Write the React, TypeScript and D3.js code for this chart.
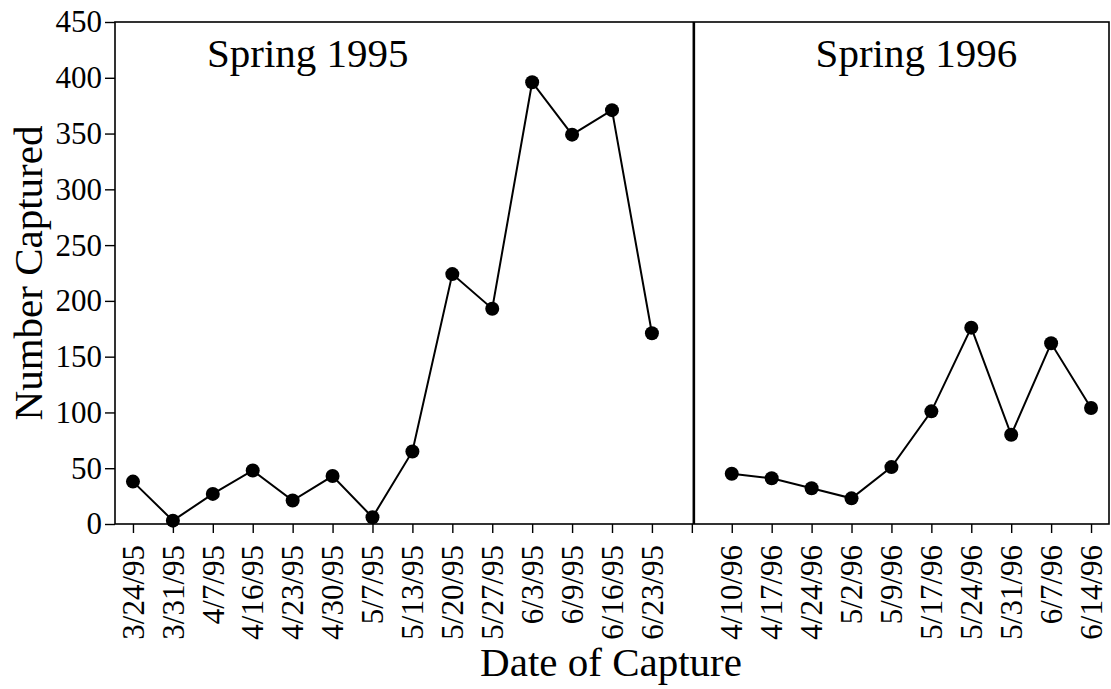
import React, { useEffect, useRef } from "react";
import * as d3 from "d3";

const dates1995 = [
  "3/24/95", "3/31/95", "4/7/95", "4/16/95", "4/23/95", "4/30/95", "5/7/95",
  "5/13/95", "5/20/95", "5/27/95", "6/3/95", "6/9/95", "6/16/95", "6/23/95",
];
const captured1995 = [38, 3, 27, 48, 21, 43, 6, 65, 224, 193, 396, 349, 371, 171];

const dates1996 = [
  "4/10/96", "4/17/96", "4/24/96", "5/2/96", "5/9/96", "5/17/96", "5/24/96",
  "5/31/96", "6/7/96", "6/14/96",
];
const captured1996 = [45, 41, 32, 23, 51, 101, 176, 80, 162, 104];

const yTicks = [0, 50, 100, 150, 200, 250, 300, 350, 400, 450];
const GAP = "gap";

function CaptureChart({
  width = 1111,
  height = 689,
  margin = { top: 22, right: 2, bottom: 165, left: 115 },
}) {
  const svgRef = useRef<SVGSVGElement>(null);

  useEffect(() => {
    const svg = d3.select(svgRef.current);
    svg.selectAll("*").remove();

    const font = "'Liberation Serif', 'Times New Roman', serif";
    const x0 = margin.left;
    const x1 = width - margin.right;
    const y0 = height - margin.bottom;
    const y1 = margin.top;

    const xScale = d3
      .scalePoint<string>()
      .domain([...dates1995, GAP, ...dates1996])
      .range([x0, x1])
      .padding(0.45);

    const yScale = d3.scaleLinear().domain([0, 450]).range([y0, y1]);

    // frame
    svg
      .append("rect")
      .attr("x", x0)
      .attr("y", y1)
      .attr("width", x1 - x0)
      .attr("height", y0 - y1)
      .attr("fill", "none")
      .attr("stroke", "#000")
      .attr("stroke-width", 1.6);

    // divider between the two seasons
    svg
      .append("line")
      .attr("x1", xScale(GAP)! + 2)
      .attr("x2", xScale(GAP)! + 2)
      .attr("y1", y1)
      .attr("y2", y0)
      .attr("stroke", "#000")
      .attr("stroke-width", 2.6);

    // y axis
    const yAxis = svg
      .append("g")
      .attr("transform", `translate(${x0},0)`)
      .call(d3.axisLeft(yScale).tickValues(yTicks).tickSize(10).tickPadding(3));
    yAxis.select(".domain").remove();
    yAxis.selectAll("line").attr("stroke-width", 1.4);
    yAxis
      .selectAll("text")
      .attr("font-family", font)
      .attr("font-size", 31)
      .attr("fill", "#000");

    // x axis
    const xAxis = svg
      .append("g")
      .attr("transform", `translate(0,${y0})`)
      .call(
        d3
          .axisBottom(xScale)
          .tickSize(9)
          .tickFormat((d) => (d === GAP ? "" : d))
      );
    xAxis.select(".domain").remove();
    xAxis.selectAll("line").attr("stroke-width", 1.4);
    xAxis
      .selectAll("text")
      .attr("font-family", font)
      .attr("font-size", 31)
      .attr("fill", "#000")
      .attr("text-anchor", "end")
      .attr("dy", "0.33em")
      .attr("transform", "translate(0,21) rotate(-90)")
      .attr("x", 0)
      .attr("y", 0);

    const line = d3
      .line<[string, number]>()
      .x((d) => xScale(d[0])!)
      .y((d) => yScale(d[1]));

    const seasons: [string, number][][] = [
      dates1995.map((d, i) => [d, captured1995[i]]),
      dates1996.map((d, i) => [d, captured1996[i]]),
    ];

    seasons.forEach((pts) => {
      svg
        .append("path")
        .datum(pts)
        .attr("fill", "none")
        .attr("stroke", "#000")
        .attr("stroke-width", 2)
        .attr("d", line);

      svg
        .append("g")
        .selectAll("circle")
        .data(pts)
        .join("circle")
        .attr("cx", (d) => xScale(d[0])!)
        .attr("cy", (d) => yScale(d[1]))
        .attr("r", 7)
        .attr("fill", "#000");
    });

    // season titles
    svg
      .append("text")
      .attr("x", xScale(dates1995[0])! + 74)
      .attr("y", 67)
      .attr("font-family", font)
      .attr("font-size", 41)
      .attr("fill", "#000")
      .text("Spring 1995");

    svg
      .append("text")
      .attr("x", (xScale(GAP)! + x1) / 2 + 16)
      .attr("y", 67)
      .attr("text-anchor", "middle")
      .attr("font-family", font)
      .attr("font-size", 41)
      .attr("fill", "#000")
      .text("Spring 1996");

    // axis titles
    svg
      .append("text")
      .attr("transform", `translate(${42},${(y0 + y1) / 2}) rotate(-90)`)
      .attr("text-anchor", "middle")
      .attr("font-family", font)
      .attr("font-size", 41)
      .attr("fill", "#000")
      .text("Number Captured");

    svg
      .append("text")
      .attr("x", 611)
      .attr("y", 676)
      .attr("text-anchor", "middle")
      .attr("font-family", font)
      .attr("font-size", 41)
      .attr("fill", "#000")
      .text("Date of Capture");
  }, [width, height, margin]);

  return (
    <svg
      ref={svgRef}
      width={width}
      height={height}
      style={{ position: "absolute", left: 0, top: 0, background: "#fff" }}
    ></svg>
  );
}

export default function App() {
  return <CaptureChart />;
}
